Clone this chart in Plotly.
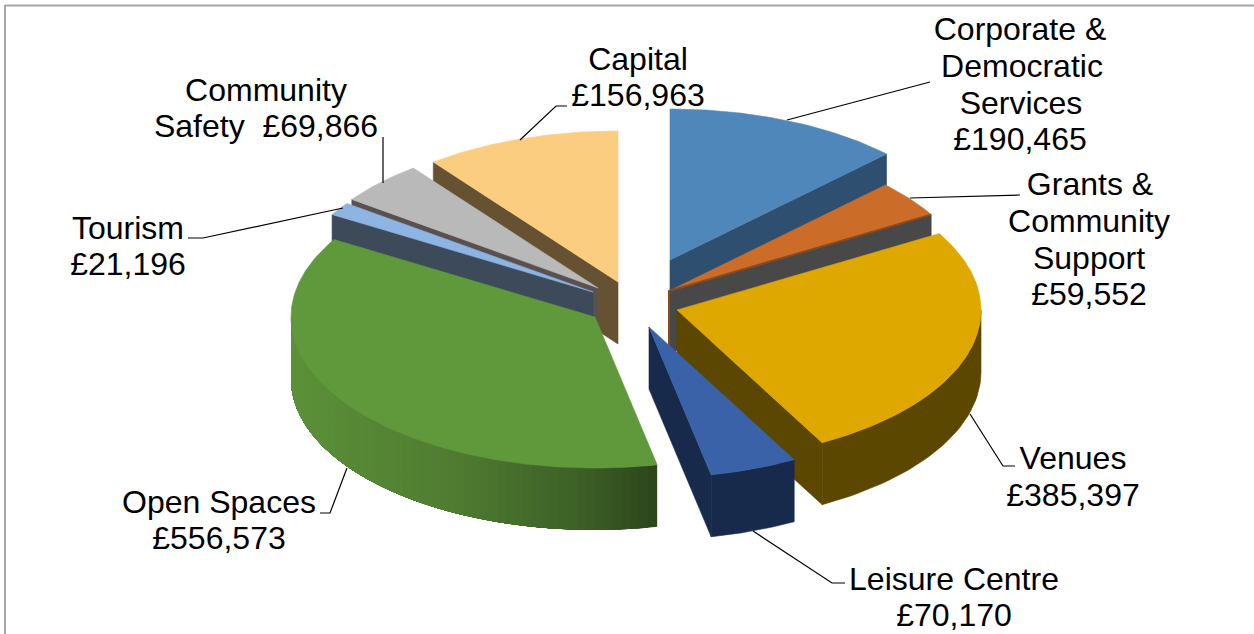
import math
import plotly.graph_objects as go

# ---------- data ----------
categories = ["Corporate & Democratic Services", "Grants & Community Support", "Venues",
              "Leisure Centre", "Open Spaces", "Tourism", "Community Safety", "Capital"]
values = [190465, 59552, 385397, 70170, 556573, 21196, 69866, 156963]

top_colors = ["#4f87bb", "#cb6c28", "#dfa800", "#3a62a8", "#60993c", "#8db4e2", "#b9b9b9", "#fbcd80"]
wall_colors = ["#2f4f70", "#484848", "#5c4700", "#172a4c", "#4f7a30", "#3c4a5a", "#5a5050", "#665233"]

# label lines: (text, x, y) per line, grouped by category
label_lines = [
    [("Corporate &", 1020, 32), ("Democratic", 1022, 69), ("Services", 1021, 106), ("£190,465", 1020, 142)],
    [("Grants &", 1090, 187), ("Community", 1089, 224), ("Support", 1089, 261), ("£59,552", 1089, 297)],
    [("Venues", 1073, 461), ("£385,397", 1073, 498)],
    [("Leisure Centre", 954, 582), ("£70,170", 954, 618)],
    [("Open Spaces", 219, 505), ("£556,573", 219, 541)],
    [("Tourism", 128, 231), ("£21,196", 128, 267)],
    [("Community", 266, 93), ("Safety  £69,866", 266, 129)],
    [("Capital", 638, 62), ("£156,963", 638, 98)],
]
leaders = [
    [(787, 120), (930, 82)],
    [(910, 198), (1020, 195)],
    [(970, 414), (1003, 466), (1015, 466)],
    [(753, 531), (832, 583), (845, 583)],
    [(347, 468), (330, 513), (320, 513)],
    [(343, 208), (203, 238), (188, 238)],
    [(383, 183), (383, 137)],
    [(520, 140), (556, 106), (567, 106)],
]

# ---------- pie geometry ----------
CX, CY = 632, 300
RX, RY = 304, 151
DEPTH = 62
pull_x = [38, 37, 45, 17, -37, -39, -34, -14]
pull_y = [-40, -9, 10, 27, 17, -8, -12, -18]
# side wall gradient of Open Spaces: (x fraction across the wall, colour)
open_stops = [(0.0, (0x5b, 0x91, 0x38)), (0.45, (0x50, 0x7c, 0x31)), (0.8, (0x3d, 0x60, 0x27)), (1.0, (0x2d, 0x47, 0x1b))]

fig = go.Figure()


def poly(xs, ys, color, width=0.6):
    fig.add_trace(go.Scatter(x=xs, y=ys, mode="lines", fill="toself", fillcolor=color,
                             line=dict(color=color, width=width), hoverinfo="skip", showlegend=False))


def rim(ax, ay, deg):
    t = math.radians(deg)
    return ax + RX * math.sin(t), ay - RY * math.cos(t)


def grad(f):
    for (a, ca), (b, cb) in zip(open_stops, open_stops[1:]):
        if f <= b:
            k = (f - a) / (b - a)
            c = [round(ca[i] + (cb[i] - ca[i]) * k) for i in range(3)]
            return "rgb(%d,%d,%d)" % tuple(c)
    return "rgb(%d,%d,%d)" % open_stops[-1][1]


total = sum(values)
spans = []
acc = 0.0
for v in values:
    spans.append((acc, acc + 360.0 * v / total))
    acc += 360.0 * v / total

draw_order = [7, 6, 5, 4, 0, 1, 2, 3]
for i in draw_order:
    a0, a1 = spans[i]
    ax, ay = CX + pull_x[i], CY + pull_y[i]
    # cut walls that face the viewer
    for ang, visible in ((a0, math.sin(math.radians(a0)) < 0), (a1, math.sin(math.radians(a1)) > 0)):
        if visible:
            rx_, ry_ = rim(ax, ay, ang)
            poly([ax, rx_, rx_, ax, ax], [ay, ry_, ry_ + DEPTH, ay + DEPTH, ay], wall_colors[i])
    # outer wall, front half only
    lo, hi = max(a0, 90.0), min(a1, 270.0)
    if lo < hi:
        if i == 4:
            # painted right to left, each strip reaching well under the next one
            n = 60
            for k in range(n):
                s0 = lo + (hi - lo) * k / n
                s1 = hi
                p0 = rim(ax, ay, s0)
                x_left, x_right = ax - RX, rim(ax, ay, lo)[0]
                f = (p0[0] - x_left) / (x_right - x_left)
                m = 30
                top = [rim(ax, ay, s0 + (s1 - s0) * q / m) for q in range(m + 1)]
                xs = [p[0] for p in top] + [p[0] for p in reversed(top)]
                ys = [p[1] for p in top] + [p[1] + DEPTH for p in reversed(top)]
                poly(xs + xs[:1], ys + ys[:1], grad(f), width=0)
            # painting order above goes dark (right) first, so the lighter left covers it
        else:
            n = 40
            top = [rim(ax, ay, lo + (hi - lo) * k / n) for k in range(n + 1)]
            xs = [p[0] for p in top] + [p[0] for p in reversed(top)]
            ys = [p[1] for p in top] + [p[1] + DEPTH for p in reversed(top)]
            poly(xs + xs[:1], ys + ys[:1], wall_colors[i])
    # top face
    n = max(8, int((a1 - a0) * 1.5))
    arc = [rim(ax, ay, a0 + (a1 - a0) * k / n) for k in range(n + 1)]
    poly([ax] + [p[0] for p in arc] + [ax], [ay] + [p[1] for p in arc] + [ay], top_colors[i])
    if i == 1:
        # rust edge along the Grants slice, seen against its dark wall
        ex, ey = rim(ax, ay, a1)
        fig.add_trace(go.Scatter(x=[ex, ax, ax], y=[ey, ay, ay + DEPTH], mode="lines",
                                 line=dict(color="#8a4a20", width=2), hoverinfo="skip", showlegend=False))

# leader lines
for pts in leaders:
    fig.add_trace(go.Scatter(x=[p[0] for p in pts], y=[p[1] for p in pts], mode="lines",
                             line=dict(color="#000000", width=1.2), hoverinfo="skip", showlegend=False))

# data labels
for name, lines in zip(categories, label_lines):
    fig.add_trace(go.Scatter(x=[l[1] for l in lines], y=[l[2] for l in lines], mode="text",
                             text=[l[0] for l in lines], textposition="middle center", name=name,
                             textfont=dict(family="Liberation Sans", size=32, color="#000000"),
                             hoverinfo="skip", showlegend=False))

fig.update_layout(
    width=1254, height=634, margin=dict(l=0, r=0, t=0, b=0),
    paper_bgcolor="#ffffff", plot_bgcolor="#ffffff", showlegend=False,
    xaxis=dict(range=[0, 1254], visible=False, fixedrange=True),
    yaxis=dict(range=[634, 0], visible=False, fixedrange=True),
    shapes=[
        dict(type="line", xref="x", yref="y", x0=5, x1=1254, y0=5.5, y1=5.5, line=dict(color="#a6a6a6", width=2)),
        dict(type="line", xref="x", yref="y", x0=5, x1=5, y0=5, y1=634, line=dict(color="#a6a6a6", width=2)),
    ],
)
fig.write_html("out.html", config={"displayModeBar": False},
               post_script="document.body.style.margin='0';document.body.style.overflow='hidden';")
